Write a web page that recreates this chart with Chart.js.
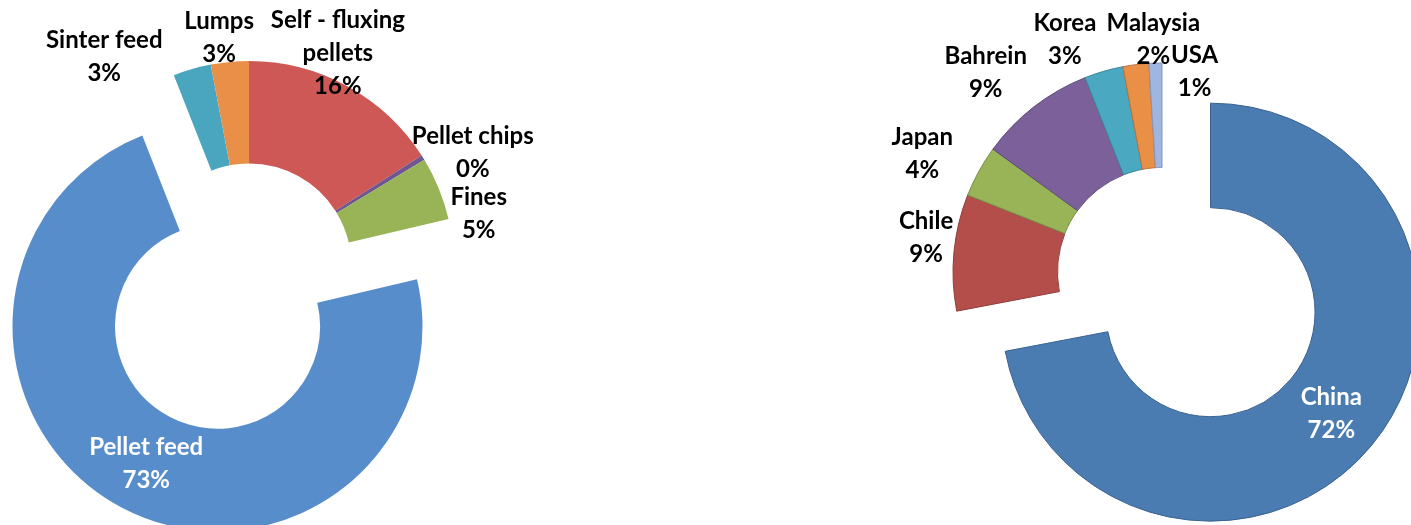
<!DOCTYPE html>
<html lang="en">
<head>
<meta charset="UTF-8">
<title>Iron ore products and destinations</title>
<script src="https://cdn.jsdelivr.net/npm/chart.js"></script>
<style>
  html, body { margin: 0; padding: 0; background: #fff; overflow: hidden; }
  #wrap { position: relative; width: 1411px; height: 525px; overflow: hidden; }
  #wrap canvas { position: absolute; left: 0; top: 0; }
</style>
</head>
<body>
<div id="wrap">
  <canvas id="productChart" width="1411" height="525"></canvas>
  <canvas id="destChart" width="1411" height="525"></canvas>
</div>
<script>
// sales by product (%)
const productLabels = [['Self - fluxing', 'pellets'], 'Pellet chips', 'Fines', 'Pellet feed', 'Sinter feed', 'Lumps'];
const productShares = [16, 0.4, 5, 73, 3, 3];
const productColors = ['#CD5856', '#6F5691', '#98B456', '#588DCB', '#4AA6BE', '#E98F48'];

// sales by destination (%)
const destLabels = ['China', 'Chile', 'Japan', 'Bahrein', 'Korea', 'Malaysia', 'USA'];
const destShares = [72, 9, 4, 9, 3, 2, 1];
const destColors = ['#4A7CB1', '#B44E4B', '#98B456', '#7B6099', '#4AA8C0', '#EA8F46', '#A0B6DE'];
const destBorders = ['#3A6290', '#8F3C3A', '#77904A', '#5F4A7A', '#3A8599', '#BE7036', '#8096BE'];

const FONT = 'bold 24px Lato';
const LINE_H = 33;

// pulls chosen slices away from the centre and writes "name / xx%" labels
function sliceLabels(cfg) {
  return {
    id: 'sliceLabels',
    afterDatasetsUpdate(chart) {
      const meta = chart.getDatasetMeta(0);
      cfg.explode.forEach((d, i) => {
        const arc = meta.data[i];
        if (!d || !arc) return;
        const mid = (arc.startAngle + arc.endAngle) / 2;
        arc.x += Math.cos(mid) * d;
        arc.y += Math.sin(mid) * d;
      });
    },
    afterDraw(chart) {
      const ctx = chart.ctx;
      const meta = chart.getDatasetMeta(0);
      const values = chart.data.datasets[0].data;
      const total = values.reduce((a, b) => a + b, 0);
      ctx.save();
      ctx.font = FONT;
      ctx.textAlign = 'center';
      ctx.textBaseline = 'alphabetic';
      meta.data.forEach((arc, i) => {
        const mid = (arc.startAngle + arc.endAngle) / 2;
        const inside = cfg.inside.includes(i);
        const r = inside ? (arc.innerRadius + arc.outerRadius) / 2 : arc.outerRadius + cfg.gap;
        const [dx, dy] = cfg.shift[i];
        const x = arc.x + Math.cos(mid) * r + dx;
        const y = arc.y + Math.sin(mid) * r + dy;
        const lines = [].concat(chart.data.labels[i], Math.round(values[i] / total * 100) + '%');
        ctx.fillStyle = inside ? '#fff' : '#000';
        lines.forEach((t, k) => {
          ctx.fillText(t, x, y + (k - (lines.length - 1) / 2) * LINE_H + 9);
        });
      });
      ctx.restore();
    }
  };
}

function donut(id, labels, data, colors, borders, padding, labelCfg) {
  return new Chart(document.getElementById(id), {
    type: 'doughnut',
    data: {
      labels: labels,
      datasets: [{
        data: data,
        backgroundColor: colors,
        borderColor: borders || colors,
        borderWidth: borders ? 1 : 0,
        radius: labelCfg.radius,
        cutout: '50%',
        hoverOffset: 0
      }]
    },
    options: {
      responsive: false,
      animation: false,
      events: [],
      layout: { padding: padding },
      plugins: {
        legend: { display: false },
        tooltip: { enabled: false }
      }
    },
    plugins: [sliceLabels(labelCfg)]
  });
}

donut('productChart', productLabels, productShares, productColors, null,
  { left: 0, right: 913, top: 14, bottom: 7 },
  {
    radius: 205,
    gap: 28,
    explode: [0, 0, 0, 68, 0, 0],
    inside: [3],
    shift: [[-23, -10], [26, 9], [14, 35], [0, 0], [-80, 13], [-8, 2]]
  });

donut('destChart', destLabels, destShares, destColors, destBorders,
  { left: 913, right: 0, top: 19, bottom: 0 },
  {
    radius: 209,
    gap: 28,
    explode: [63, 0, 0, 0, 0, 0, 0],
    inside: [0],
    shift: [[0, 0], [0, -13], [-32, -5], [-31, -13], [-31, -6], [21, 2], [40, 35]]
  });
</script>
</body>
</html>
